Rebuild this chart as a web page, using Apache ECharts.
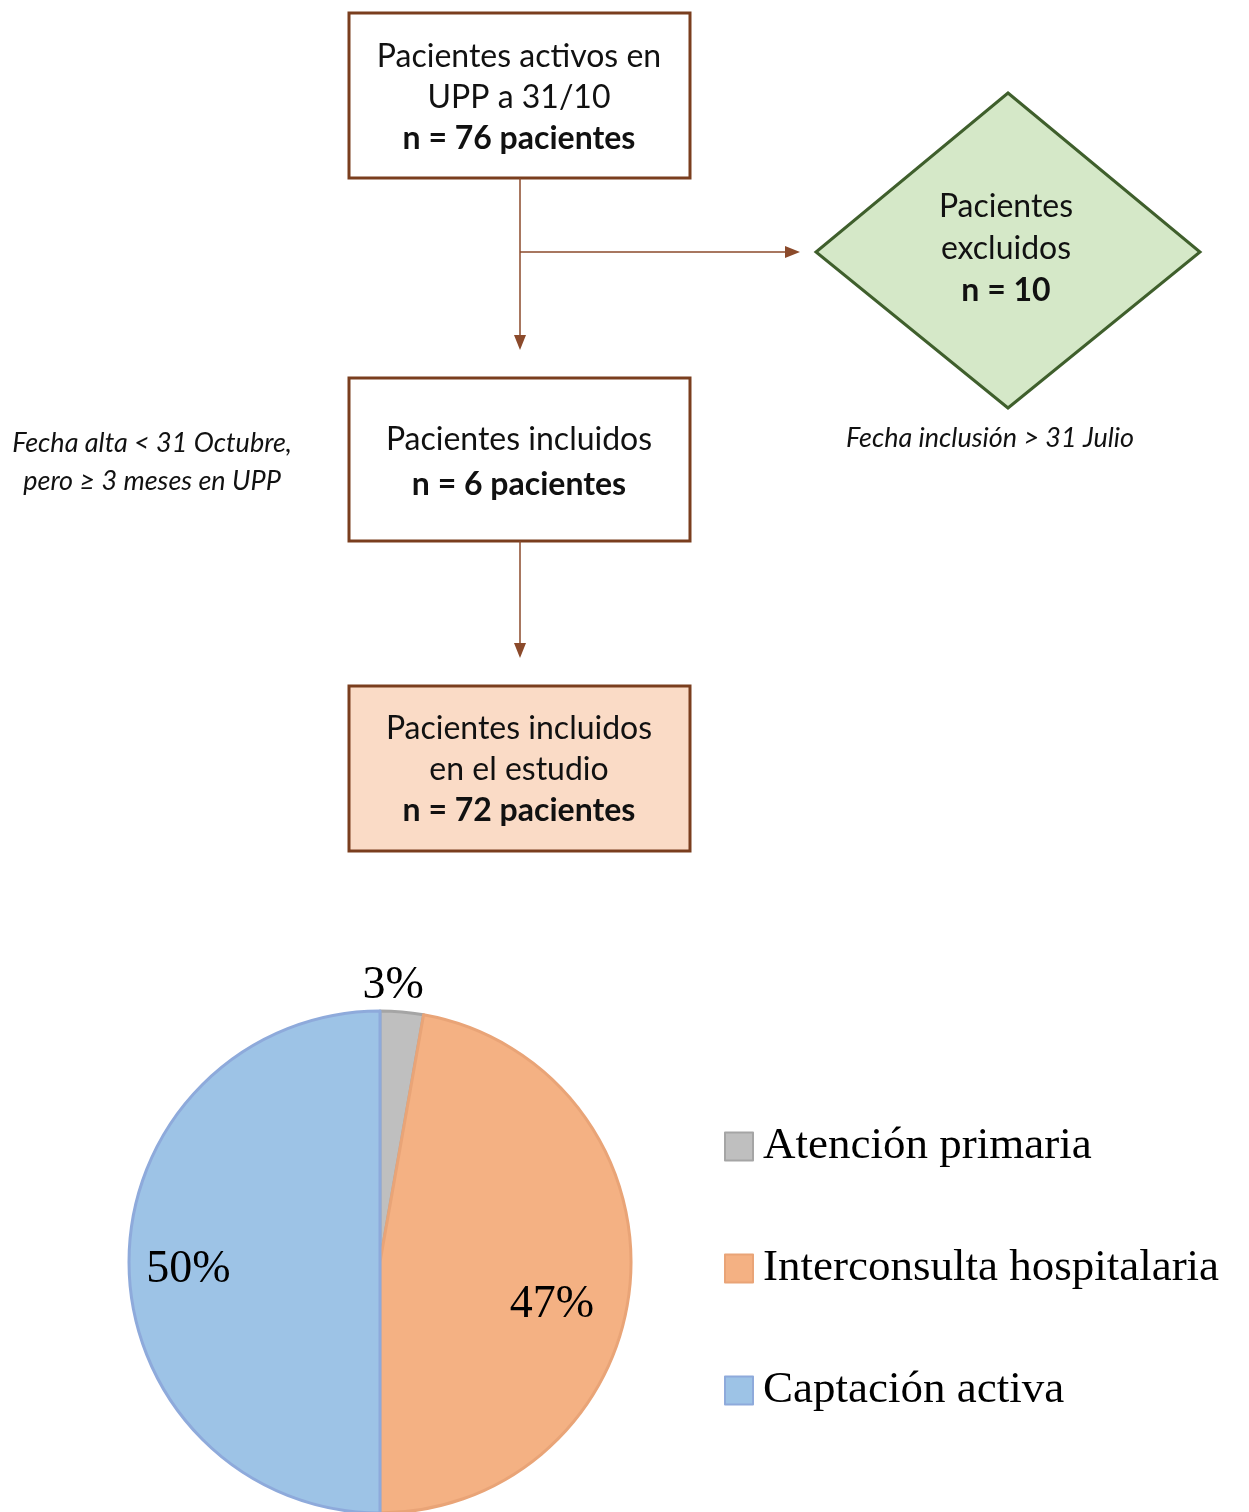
<!DOCTYPE html>
<html>
<head>
<meta charset="utf-8">
<script src="https://cdn.jsdelivr.net/npm/echarts@6/dist/echarts.min.js"></script>
<style>
  html, body { margin: 0; padding: 0; background: #fff; }
  #chart { width: 1249px; height: 1512px; }
</style>
</head>
<body>
<div id="chart"></div>
<script>
// flowchart texts
const boxActivos = ['Pacientes activos en', 'UPP a 31/10', 'n = 76 pacientes'];
const boxExcluidos = ['Pacientes', 'excluidos', 'n = 10'];
const boxIncluidos = ['Pacientes incluidos', 'n = 6 pacientes'];
const boxEstudio = ['Pacientes incluidos', 'en el estudio', 'n = 72 pacientes'];
const noteExcluidos = 'Fecha inclusión > 31 Julio';
const noteIncluidos = ['Fecha alta < 31 Octubre,', 'pero ≥ 3 meses en UPP'];

// pie data (72 patients)
const origins = ['Atención primaria', 'Interconsulta hospitalaria', 'Captación activa'];
const patients = [2, 34, 36];

const fills = ['#bfbfbf', '#f4b183', '#9dc3e6'];
const borders = ['#a5a5a5', '#e9a477', '#8eaadb'];
const labelShift = [[2, -148], [44, 32], [-63, 8]]; // nudges from the default inside spot

const FLOW_FONT = 'Lato, "Open Sans", sans-serif';
const SERIF = '"Liberation Serif", "DejaVu Serif", serif';
const BROWN = '#7a3e1e';
const ARROW = '#8b4a2b';

function textLines(lines, cx, startY, step, boldLast) {
  return lines.map((t, i) => ({
    type: 'text',
    style: {
      text: t,
      x: cx,
      y: startY + i * step,
      align: 'center',
      verticalAlign: 'middle',
      fill: '#111',
      font: (boldLast && i === lines.length - 1 ? 'bold ' : '') + '32px ' + FLOW_FONT,
    },
  }));
}

function box(x, y, w, h, fill) {
  return {
    type: 'rect',
    shape: { x, y, width: w, height: h },
    style: { fill, stroke: BROWN, lineWidth: 3 },
  };
}

function arrowDown(x, y1, y2) {
  return [
    { type: 'line', shape: { x1: x, y1, x2: x, y2: y2 - 14 }, style: { stroke: ARROW, lineWidth: 1.5 } },
    { type: 'polygon', shape: { points: [[x - 6, y2 - 15], [x + 6, y2 - 15], [x, y2]] }, style: { fill: ARROW } },
  ];
}

function arrowRight(x1, x2, y) {
  return [
    { type: 'line', shape: { x1, y1: y, x2: x2 - 14, y2: y }, style: { stroke: ARROW, lineWidth: 1.5 } },
    { type: 'polygon', shape: { points: [[x2 - 15, y - 6], [x2 - 15, y + 6], [x2, y]] }, style: { fill: ARROW } },
  ];
}

const flow = [
  box(349, 13, 341, 165, '#ffffff'),
  ...textLines(boxActivos, 519, 57, 41, true),
  ...arrowDown(520, 178, 350),
  ...arrowRight(520, 800, 252),
  {
    type: 'polygon',
    shape: { points: [[1008, 93], [1200, 252], [1008, 408], [816, 252]] },
    style: { fill: '#d5e8c8', stroke: '#3f5f2c', lineWidth: 3 },
  },
  ...textLines(boxExcluidos, 1006, 207, 42, true),
  {
    type: 'text',
    style: {
      text: noteExcluidos, x: 990, y: 438, align: 'center', verticalAlign: 'middle',
      fill: '#111', font: 'italic 27px ' + FLOW_FONT,
    },
  },
  box(349, 378, 341, 163, '#ffffff'),
  ...textLines(boxIncluidos, 519, 440, 45, true),
  ...noteIncluidos.map((t, i) => ({
    type: 'text',
    style: {
      text: t, x: 152, y: 443 + i * 38, align: 'center', verticalAlign: 'middle',
      fill: '#111', font: 'italic 27px ' + FLOW_FONT,
    },
  })),
  ...arrowDown(520, 541, 658),
  box(349, 686, 341, 165, '#fadbc6'),
  ...textLines(boxEstudio, 519, 729, 41, true),
];

const chart = echarts.init(document.getElementById('chart'));
chart.setOption({
  backgroundColor: '#ffffff',
  animation: false,
  graphic: { elements: flow },
  legend: {
    orient: 'vertical',
    left: 719,
    top: 1119,
    icon: 'rect',
    itemWidth: 28,
    itemHeight: 28,
    itemGap: 77,
    data: origins,
    textStyle: { fontFamily: SERIF, fontSize: 45, color: '#000', lineHeight: 44, padding: [0, 0, 0, 5] },
  },
  series: [
    {
      type: 'pie',
      center: [380, 1262],
      radius: 251,
      startAngle: 90,
      clockwise: true,
      silent: true,
      data: origins.map((name, i) => ({
        name,
        value: patients[i],
        itemStyle: { color: fills[i], borderColor: borders[i], borderWidth: 3 },
      })),
      label: {
        show: true,
        position: 'inside',
        formatter: (p) => Math.round(p.percent) + '%',
        fontFamily: SERIF,
        fontSize: 46,
        color: '#000',
      },
      labelLine: { show: false },
      labelLayout: (p) => ({ dx: labelShift[p.dataIndex][0], dy: labelShift[p.dataIndex][1] }),
    },
  ],
});
</script>
</body>
</html>
